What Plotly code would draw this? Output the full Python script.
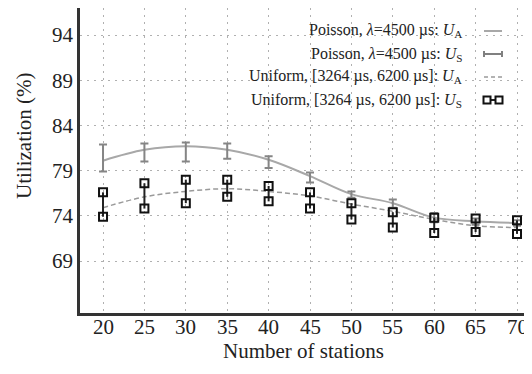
import plotly.graph_objects as go

stations = [20, 25, 30, 35, 40, 45, 50, 55, 60, 65, 70]
poisson_ua = [80.1, 81.3, 81.7, 81.3, 80.2, 78.4, 76.4, 75.4, 73.8, 73.4, 73.2]
poisson_us_lo = [78.9, 80.0, 80.0, 80.3, 79.3, 77.7, 76.0, 74.9, 73.3, 73.0, 72.9]
poisson_us_hi = [81.9, 82.0, 82.1, 82.0, 80.6, 78.8, 76.7, 75.8, 74.3, 73.7, 73.5]
uniform_ua = [74.9, 76.1, 76.7, 77.0, 76.7, 76.2, 75.3, 74.5, 73.6, 72.9, 72.7]
uniform_us_lo = [73.9, 74.8, 75.4, 76.1, 75.6, 74.8, 73.6, 72.7, 72.1, 72.2, 72.0]
uniform_us_hi = [76.6, 77.6, 78.0, 78.0, 77.3, 76.6, 75.4, 74.4, 73.8, 73.7, 73.5]
y_ticks = [69, 74, 79, 84, 89, 94]
x_tick_labels = [str(s) for s in stations]
x_title = "Number of stations"
y_title = "Utilization (%)"
legend_labels = [
    "Poisson, <i>λ</i>=4500 µs: <i>U</i><sub>A</sub>",
    "Poisson, <i>λ</i>=4500 µs: <i>U</i><sub>S</sub>",
    "Uniform, [3264 µs, 6200 µs]: <i>U</i><sub>A</sub>",
    "Uniform, [3264 µs, 6200 µs]: <i>U</i><sub>S</sub>",
]

FONT = "Liberation Serif, Times New Roman, serif"
OFF = 8  # page body margin offset
W, H = 532 - OFF, 374 - OFF
ML, MR, MT, MB = 80 - OFF, 0, 8 - OFF, 61
PW, PH = W - ML - MR, H - MT - MB

def px(xs):  # screen x -> paper
    return (xs - OFF - ML) / PW

def py(ys):  # screen y -> paper
    return (H - MB - (ys - OFF)) / PH

fig = go.Figure()

fig.add_trace(go.Scatter(
    x=stations, y=poisson_ua, mode="lines",
    line=dict(color="#a8a8a8", width=2, shape="spline"), showlegend=False))

fig.add_trace(go.Scatter(
    x=stations, y=uniform_ua, mode="lines",
    line=dict(color="#9a9a9a", width=1.5, dash="5px,3px", shape="spline"), showlegend=False))

mid = [(a + b) / 2 for a, b in zip(poisson_us_lo, poisson_us_hi)]
half = [(b - a) / 2 for a, b in zip(poisson_us_lo, poisson_us_hi)]
fig.add_trace(go.Scatter(
    x=stations, y=mid, mode="markers", marker=dict(size=1, color="rgba(0,0,0,0)"),
    error_y=dict(type="data", array=half, visible=True, color="#858585", thickness=2, width=4),
    showlegend=False))

ux, uy = [], []
for s, lo, hi in zip(stations, uniform_us_lo, uniform_us_hi):
    ux += [s, s, None]
    uy += [lo, hi, None]
fig.add_trace(go.Scatter(
    x=ux, y=uy, mode="lines+markers",
    line=dict(color="#222222", width=2),
    marker=dict(symbol="square-open", size=8, color="#111111", line=dict(width=2)),
    showlegend=False))

# custom legend (text right-aligned, symbol on the right)
rows_y = [31, 54, 77, 100]
for lab, yy in zip(legend_labels, rows_y):
    fig.add_annotation(x=px(464), y=py(yy), xref="paper", yref="paper",
                       text=lab, showarrow=False, xanchor="right", yanchor="middle",
                       font=dict(family=FONT, size=16, color="#222"))
sx0, sx1 = 484, 502
fig.add_shape(type="line", xref="paper", yref="paper", x0=px(sx0), x1=px(sx1),
              y0=py(rows_y[0]), y1=py(rows_y[0]), line=dict(color="#a8a8a8", width=2))
fig.add_shape(type="line", xref="paper", yref="paper", x0=px(sx0), x1=px(sx1),
              y0=py(rows_y[1]), y1=py(rows_y[1]), line=dict(color="#808080", width=2))
for xx in (sx0, sx1):
    fig.add_shape(type="line", xref="paper", yref="paper", x0=px(xx), x1=px(xx),
                  y0=py(rows_y[1] - 3), y1=py(rows_y[1] + 3), line=dict(color="#808080", width=2))
fig.add_shape(type="line", xref="paper", yref="paper", x0=px(sx0), x1=px(sx1),
              y0=py(rows_y[2]), y1=py(rows_y[2]), line=dict(color="#9a9a9a", width=1.5, dash="4px,3px"))
fig.add_shape(type="line", xref="paper", yref="paper", x0=px(sx0 + 2), x1=px(sx1 - 2),
              y0=py(rows_y[3]), y1=py(rows_y[3]), line=dict(color="#222", width=2))
for xx in (sx0 + 3, sx1 - 3):
    fig.add_shape(type="rect", xref="paper", yref="paper",
                  x0=px(xx - 3.5), x1=px(xx + 3.5), y0=py(rows_y[3] - 3.5), y1=py(rows_y[3] + 3.5),
                  line=dict(color="#111", width=2), fillcolor="white")

# x tick labels (placed at the data positions on the x axis)
for s, lab in zip(stations, x_tick_labels):
    fig.add_annotation(x=s, xref="x", y=py(327), yref="paper", text=lab,
                       showarrow=False, xanchor="center", yanchor="middle",
                       font=dict(family=FONT, size=21, color="#222"))

# axis titles placed as annotations
fig.add_annotation(x=px(303), y=py(351), xref="paper", yref="paper", text=x_title,
                   showarrow=False, xanchor="center", yanchor="middle",
                   font=dict(family=FONT, size=21, color="#222"))
fig.add_annotation(x=px(24), y=py(136), xref="paper", yref="paper", text=y_title,
                   showarrow=False, xanchor="center", yanchor="middle", textangle=-90,
                   font=dict(family=FONT, size=21, color="#222"))

fig.update_layout(
    width=W, height=H,
    margin=dict(l=ML, r=MR, t=MT, b=MB, autoexpand=False),
    paper_bgcolor="white", plot_bgcolor="white",
    font=dict(family=FONT, size=21, color="#222"),
)
fig.update_xaxes(
    range=[17.22, 71.81], tickvals=stations, showticklabels=False, showgrid=True, automargin=False,
    gridcolor="#b0b0b0", griddash="2px,5px", gridwidth=1,
    showline=True, linecolor="#333", linewidth=2.5, mirror=True,
    ticks="", zeroline=False,
)
fig.update_yaxes(
    range=[63.25, 96.99], tickvals=y_ticks, showgrid=True, automargin=False,
    gridcolor="#b0b0b0", griddash="2px,5px", gridwidth=1,
    showline=True, linecolor="#333", linewidth=2.5,
    ticks="", zeroline=False, ticklabelstandoff=0,
)

fig.write_html("out.html")
